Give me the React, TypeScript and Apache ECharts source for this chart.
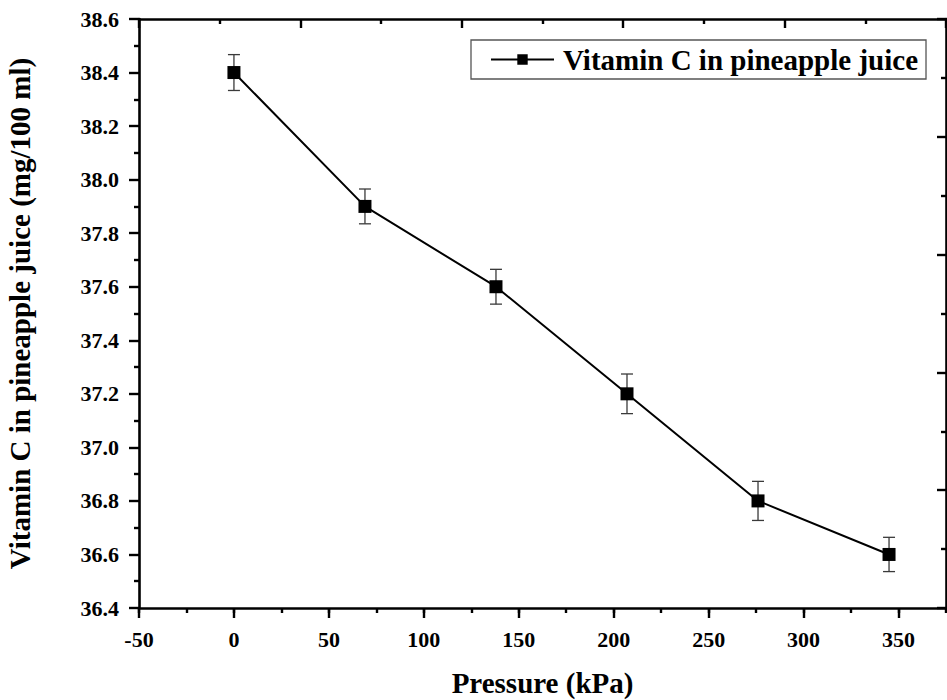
import React, { useEffect, useRef } from "react";
import * as echarts from "echarts";

// Pressure applied (kPa) and measured vitamin C (mg/100 ml)
const pressure = [0, 69, 138, 207, 276, 345];
const vitaminC = [38.4, 37.9, 37.6, 37.2, 36.8, 36.6];
// Standard deviation of each measurement
const stdDev = [0.067, 0.065, 0.065, 0.074, 0.073, 0.064];

const seriesName = "Vitamin C in pineapple juice";
const xTitle = "Pressure (kPa)";
const yTitle = "Vitamin C in pineapple juice (mg/100 ml)";

const FONT = "'Liberation Serif', 'Times New Roman', serif";

export default function App() {
  const ref = useRef<HTMLDivElement>(null);

  useEffect(() => {
    if (!ref.current) return;
    const chart = echarts.init(ref.current, null, { renderer: "svg" });

    const points = pressure.map((x, i) => [x, vitaminC[i]]);
    const errors = pressure.map((x, i) => [x, vitaminC[i] - stdDev[i], vitaminC[i] + stdDev[i]]);

    const axisLine = { show: true, onZero: false, lineStyle: { color: "#000", width: 2.6 } };
    const tickStyle = { color: "#000", width: 2.4 };
    const tickText = { fontFamily: FONT, fontWeight: "bold" as const, fontSize: 22, color: "#000" };
    const titleText = { fontFamily: FONT, fontWeight: "bold" as const, fontSize: 29, color: "#000" };

    chart.setOption({
      animation: false,
      backgroundColor: "#fff",
      textStyle: { fontFamily: FONT },
      grid: { left: 139, right: 1, top: 19, bottom: 92, containLabel: false, outerBoundsMode: "none" },
      legend: {
        data: [seriesName],
        left: 471,
        top: 40,
        padding: [5, 8, 5, 19],
        borderColor: "#555",
        borderWidth: 1.3,
        itemWidth: 63,
        itemHeight: 13,
        textStyle: { ...titleText, padding: [0, 0, 0, 4] },
      },
      xAxis: [
        {
          type: "value",
          position: "bottom",
          min: -50,
          max: 375,
          interval: 50,
          name: `{t|${xTitle}}`,
          nameLocation: "middle",
          nameGap: 60,
          nameTextStyle: { ...titleText, rich: { t: titleText } },
          axisLine,
          axisTick: { show: true, inside: false, length: 10, lineStyle: tickStyle },
          axisLabel: {
            ...tickText,
            margin: 20,
            showMaxLabel: false,
            formatter: (v: number) => `{t|${v}}`,
            rich: { t: tickText },
          },
          splitLine: { show: false },
        },
        {
          // minor ticks every 25 kPa
          type: "value",
          position: "bottom",
          min: -50,
          max: 375,
          interval: 25,
          axisLine: { show: false, onZero: false },
          axisTick: { show: true, inside: false, length: 5, lineStyle: tickStyle },
          axisLabel: { show: false },
          splitLine: { show: false },
        },
        {
          type: "value",
          position: "top",
          min: 0,
          max: 10,
          interval: 2,
          axisLine,
          axisTick: { show: true, inside: true, length: 9, lineStyle: tickStyle },
          minorTick: { show: true, splitNumber: 2, length: 5, lineStyle: tickStyle },
          axisLabel: { show: false },
          splitLine: { show: false },
          minorSplitLine: { show: false },
        },
      ],
      yAxis: [
        {
          type: "value",
          position: "left",
          min: 36.4,
          max: 38.6,
          interval: 0.2,
          name: `{t|${yTitle}}`,
          nameLocation: "middle",
          nameGap: 105,
          nameTextStyle: { ...titleText, rich: { t: titleText } },
          axisLine,
          axisTick: { show: true, inside: false, length: 10, lineStyle: tickStyle },
          minorTick: { show: true, splitNumber: 2, length: 5, lineStyle: tickStyle },
          axisLabel: {
            ...tickText,
            margin: 20,
            formatter: (v: number) => `{t|${v.toFixed(1)}}`,
            rich: { t: tickText },
          },
          splitLine: { show: false },
          minorSplitLine: { show: false },
        },
        {
          type: "value",
          position: "right",
          min: 0,
          max: 10,
          interval: 2,
          axisLine,
          axisTick: { show: true, inside: true, length: 9, lineStyle: tickStyle },
          minorTick: { show: true, splitNumber: 2, length: 5, lineStyle: tickStyle },
          axisLabel: { show: false },
          splitLine: { show: false },
          minorSplitLine: { show: false },
        },
      ],
      series: [
        {
          type: "custom",
          name: "error",
          xAxisIndex: 0,
          yAxisIndex: 0,
          z: 1,
          silent: true,
          data: errors,
          renderItem: (_params: any, api: any) => {
            const x = api.value(0);
            const lo = api.coord([x, api.value(1)]);
            const hi = api.coord([x, api.value(2)]);
            const half = 6;
            const style = { stroke: "#3a3a3a", lineWidth: 1.3 };
            return {
              type: "group",
              children: [
                { type: "line", shape: { x1: lo[0], y1: lo[1], x2: hi[0], y2: hi[1] }, style },
                { type: "line", shape: { x1: hi[0] - half, y1: hi[1], x2: hi[0] + half, y2: hi[1] }, style },
                { type: "line", shape: { x1: lo[0] - half, y1: lo[1], x2: lo[0] + half, y2: lo[1] }, style },
              ],
            };
          },
        },
        {
          type: "line",
          name: seriesName,
          xAxisIndex: 0,
          yAxisIndex: 0,
          z: 3,
          data: points,
          symbol: "rect",
          symbolSize: 13,
          itemStyle: { color: "#000" },
          lineStyle: { color: "#000", width: 2 },
        },
      ],
    });

    return () => chart.dispose();
  }, []);

  return (
    <div
      ref={ref}
      style={{ position: "fixed", left: 0, top: 0, width: 947, height: 700, background: "#fff" }}
    />
  );
}
